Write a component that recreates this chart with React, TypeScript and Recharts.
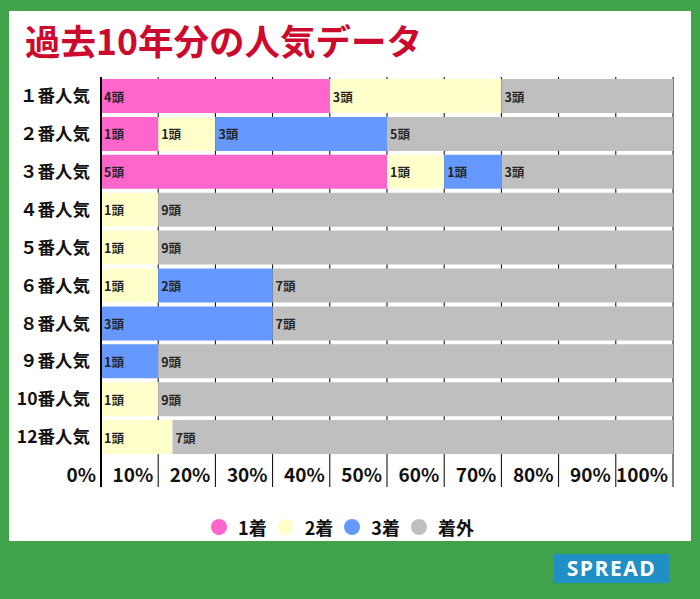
import { BarChart, Bar, XAxis, YAxis, CartesianGrid, LabelList } from 'recharts';

const categories = ['１番人気', '２番人気', '３番人気', '４番人気', '５番人気', '６番人気', '８番人気', '９番人気', '10番人気', '12番人気'];
const first = [4, 1, 5, 0, 0, 0, 0, 0, 0, 0];
const second = [3, 1, 1, 1, 1, 1, 0, 0, 1, 1];
const third = [0, 3, 1, 0, 0, 2, 3, 1, 0, 0];
const outside = [3, 5, 3, 9, 9, 7, 7, 9, 9, 7];
const xTicks = [0, 0.1, 0.2, 0.3, 0.4, 0.5, 0.6, 0.7, 0.8, 0.9, 1];

const series = [
  { key: 'first', name: '1着', color: '#ff66cc' },
  { key: 'second', name: '2着', color: '#ffffcc' },
  { key: 'third', name: '3着', color: '#6699ff' },
  { key: 'outside', name: '着外', color: '#bfbfbf' },
];

const data = categories.map((name, i) => ({
  name,
  first: first[i],
  second: second[i],
  third: third[i],
  outside: outside[i],
}));

const FONT = '"Noto Sans CJK JP", "Noto Sans", sans-serif';

const BarLabel = (props: any) => {
  const { x, y, height, value } = props;
  if (!value) return null;
  return (
    <text x={x + 3} y={y + height / 2} dominantBaseline="central" fontSize={12.5} fontWeight={700} fill="#222" fontFamily={FONT}>
      {`${value}頭`}
    </text>
  );
};

const XTick = (props: any) => {
  const { x, y, payload } = props;
  return (
    <g>
      <line x1={x} y1={y} x2={x} y2={y + 31} stroke="#000" strokeWidth={payload.value === 0 ? 2 : 1} />
      <text x={x - 5} y={y + 26} textAnchor="end" fontSize={19} fontWeight={700} fill="#111" fontFamily={FONT}>
        {`${Math.round(payload.value * 100)}%`}
      </text>
    </g>
  );
};

export default function App() {
  return (
    <div style={{ position: 'absolute', left: 0, top: 0, width: 700, height: 599, background: '#40a24a', fontFamily: FONT }}>
      <div style={{ position: 'absolute', left: 9, top: 11, width: 682, height: 530, background: '#fff' }} />
      <div style={{ position: 'absolute', left: 25, top: 19, fontSize: 35.5, fontWeight: 700, color: '#cc0a2d', lineHeight: 1.2, whiteSpace: 'nowrap' }}>
        過去10年分の人気データ
      </div>
      <div style={{ position: 'absolute', left: 0, top: 0 }}>
        <BarChart
          width={700}
          height={599}
          data={data}
          layout="vertical"
          stackOffset="expand"
          barSize={34}
          margin={{ top: 77, right: 27, bottom: 103, left: 11 }}
        >
          <CartesianGrid vertical horizontal={false} stroke="#000" />
          <XAxis
            type="number"
            domain={[0, 1]}
            ticks={xTicks}
            axisLine={false}
            tickLine={false}
            tickSize={0}
            tickMargin={0}
            height={40}
            tick={<XTick />}
            interval={0}
          />
          <YAxis
            type="category"
            dataKey="name"
            width={90}
            axisLine={{ stroke: '#000', strokeWidth: 2 }}
            tickLine={false}
            tickSize={0}
            tickMargin={11}
            interval={0}
            tick={{ fontSize: 17.5, fontWeight: 700, fill: '#111', fontFamily: FONT }}
          />
          {series.map((s) => (
            <Bar key={s.key} dataKey={s.key} name={s.name} stackId="a" fill={s.color} isAnimationActive={false}>
              <LabelList dataKey={s.key} content={<BarLabel />} />
            </Bar>
          ))}
        </BarChart>
      </div>
      <div style={{ position: 'absolute', left: 0, top: 516, width: 700, display: 'flex', justifyContent: 'center' }}>
        <div style={{ display: 'flex', marginLeft: -4 }}>
          {series.map((s) => (
            <div key={s.key} style={{ display: 'flex', alignItems: 'center', marginRight: 11 }}>
              <span style={{ width: 16, height: 16, borderRadius: 8, background: s.color, display: 'inline-block' }} />
              <span style={{ marginLeft: 11, fontSize: 18, fontWeight: 700, color: '#111', lineHeight: '22px' }}>{s.name}</span>
            </div>
          ))}
        </div>
      </div>
      <div
        style={{
          position: 'absolute',
          left: 554,
          top: 554,
          width: 115,
          height: 29,
          background: '#1f8fc6',
          color: '#fff',
          fontFamily: '"Open Sans", "Noto Sans", sans-serif',
          fontWeight: 700,
          fontSize: 21,
          letterSpacing: 1.5,
          lineHeight: '29px',
          textAlign: 'center',
        }}
      >
        SPREAD
      </div>
    </div>
  );
}
